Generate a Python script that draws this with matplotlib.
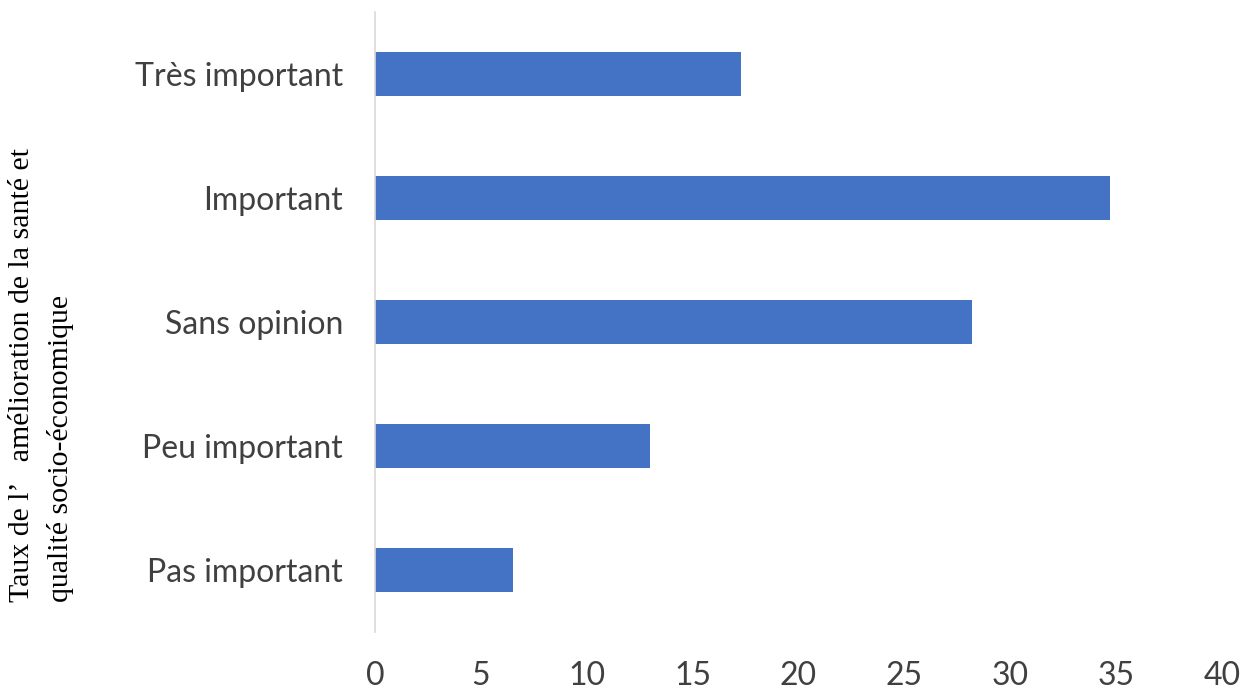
import matplotlib
matplotlib.use("Agg")
import matplotlib.pyplot as plt

categories = ["Pas important", "Peu important", "Sans opinion", "Important", "Très important"]
values = [6.5, 13.0, 28.2, 34.7, 17.3]
xticks = [0, 5, 10, 15, 20, 25, 30, 35, 40]

fig = plt.figure(figsize=(12.48, 6.92), dpi=100)
ax = fig.add_axes([375 / 1248, (692 - 632) / 692, (1222 - 375) / 1248, 620 / 692])

ax.barh(range(len(categories)), values, height=0.36, color="#4472C4")
ax.set_xlim(0, 40)
ax.set_ylim(-0.5, len(categories) - 0.5)
ax.set_xticks(xticks)
ax.set_xticklabels([str(t) for t in xticks])
ax.set_yticks(range(len(categories)))
ax.set_yticklabels(categories)

for s in ["top", "right", "bottom"]:
    ax.spines[s].set_visible(False)
ax.spines["left"].set_color("#d9d9d9")
ax.spines["left"].set_linewidth(1.2)
ax.tick_params(axis="both", length=0, labelcolor="#404040")
ax.tick_params(axis="y", pad=23)
ax.tick_params(axis="x", pad=21)
for lab in ax.get_yticklabels() + ax.get_xticklabels():
    lab.set_fontfamily("Lato")
    lab.set_fontsize(23)

# two-line axis title, both lines starting from the same baseline end
fig.text(22 / 1248, 1 - 602 / 692, "Taux de l’   amélioration de la santé et",
         rotation=90, ha="center", va="bottom", fontsize=21.5,
         family="Liberation Serif", color="#000000")
fig.text(61 / 1248, 1 - 602 / 692, "qualité socio-économique",
         rotation=90, ha="center", va="bottom", fontsize=21.5,
         family="Liberation Serif", color="#000000")

fig.savefig("out.png", dpi=100, facecolor="white")
